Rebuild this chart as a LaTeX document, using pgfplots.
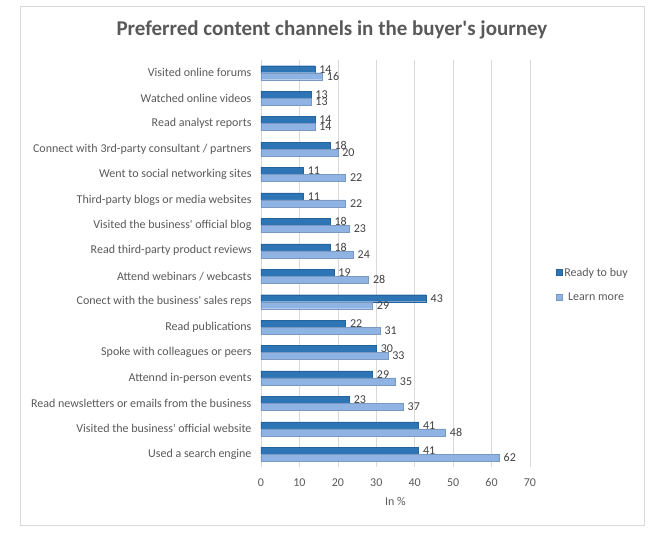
\documentclass[border=0pt]{standalone}
\usepackage{pgfplots}
\pgfplotsset{compat=1.18}
\usepackage{fontspec}
\setmainfont{Carlito}[Ligatures=TeXOff]
\definecolor{buy}{RGB}{46,117,182}
\definecolor{learn}{RGB}{143,180,227}
\definecolor{txt}{RGB}{89,89,89}
\definecolor{lbl}{RGB}{64,64,64}
\definecolor{gridc}{RGB}{217,217,217}

\pgfplotstableread[col sep=comma]{
idx,buy,learn
0,14,16
1,13,13
2,14,14
3,18,20
4,11,22
5,11,22
6,18,23
7,18,24
8,19,28
9,43,29
10,22,31
11,30,33
12,29,35
13,23,37
14,41,48
15,41,62
}\channels

\begin{document}
\begin{tikzpicture}[x=1pt,y=1pt]
\useasboundingbox (0,0) rectangle (662,543);
\draw[gridc, line width=0.9pt] (20,18) rectangle (644,537);
\node[font=\bfseries\fontsize{21}{24}\selectfont, text=txt] at (332,513) {Preferred content channels in the buyer's journey};
\begin{axis}[
  at={(261pt,76pt)}, anchor=south west,
  scale only axis, width=269pt, height=407pt,
  xbar, bar width=7pt,
  xmin=0, xmax=70, xtick={0,10,...,70},
  ymin=-0.5, ymax=15.5, y dir=reverse,
  ytick={0,...,15},
  yticklabels={Visited online forums, Watched online videos, Read analyst reports,
    Connect with 3rd-party consultant / partners, Went to social networking sites,
    Third-party blogs or media websites, Visited the business' official blog,
    Read third-party product reviews, Attend webinars / webcasts,
    Conect with the business' sales reps, Read publications,
    Spoke with colleagues or peers, Attennd in-person events,
    Read newsletters or emails from the business,
    Visited the business' official website, Used a search engine},
  xmajorgrids, grid style={gridc, line width=0.7pt},
  axis x line*=bottom, axis y line*=left,
  x axis line style={draw=none},
  y axis line style={gridc, line width=0.8pt},
  major tick length=0pt,
  tick label style={font=\fontsize{12}{14}\selectfont, text=txt},
  /pgf/number format/assume math mode=true,
  xticklabel style={yshift=-8pt},
  yticklabel style={xshift=-6pt},
  xlabel={In \%}, xlabel style={font=\fontsize{12}{14}\selectfont, text=txt, yshift=-4pt},
  nodes near coords,
  every node near coord/.append style={font=\fontsize{12}{14}\selectfont, text=lbl, anchor=west, xshift=1pt},
  legend style={at={(rel axis cs:1.085,0.50)}, anchor=north west, draw=none, fill=none,
    font=\fontsize{12}{14}\selectfont, text=txt, row sep=11pt},
  legend image code/.code={\fill[#1] (0pt,-3pt) rectangle (6pt,3pt);},
  clip=false,
]
\addplot[draw=buy!85!black, line width=0.3pt, fill=buy, bar shift=3.5pt] table[x=buy, y=idx] {\channels};
\addplot[draw=learn!85!black, line width=0.3pt, fill=learn, bar shift=-3.5pt] table[x=learn, y=idx] {\channels};
\legend{Ready to buy, Learn more}
\end{axis}
\end{tikzpicture}
\end{document}
